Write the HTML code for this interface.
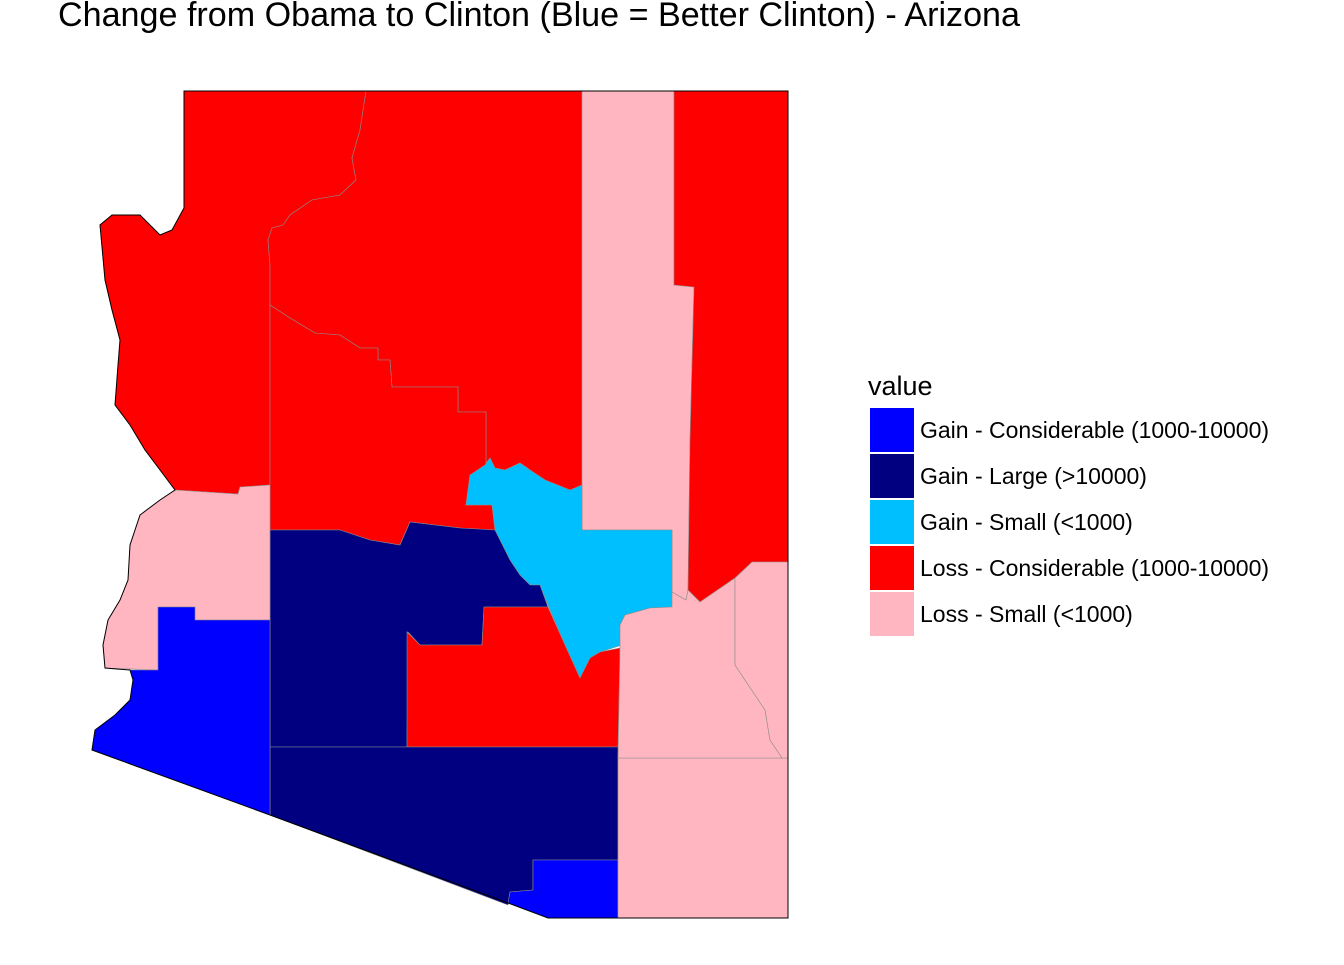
<!DOCTYPE html>
<html><head><meta charset="utf-8"><style>
body{margin:0;background:#fff;}
svg text{font-family:"Liberation Sans",Arial,sans-serif;}
</style></head><body>
<svg id="chart" width="1344" height="960" viewBox="0 0 1344 960" xmlns="http://www.w3.org/2000/svg">
<rect width="1344" height="960" fill="#fff"/>
<text x="58" y="26" font-size="34" fill="#000" textLength="962" lengthAdjust="spacingAndGlyphs">Change from Obama to Clinton (Blue = Better Clinton) - Arizona</text>
<g id="map"></g>
<polygon points="184,91 788,91 788,918 548,918 508,903 270,815 92,750 95,730 115,715 130,700 133,680 130,670 105,668 103,645 108,620 120,600 128,580 130,545 140,515 160,500 175,490 160,470 145,450 130,425 115,405 118,365 120,340 112,310 105,280 100,225 112,215 140,215 150,225 160,235 172,230 184,208" fill="none" stroke="#000" stroke-width="1"/>
<g id="legend">
<text x="868" y="395" font-size="27" fill="#000">value</text>
</g>
</svg>
<script>
const categories = ["Gain - Considerable (1000-10000)","Gain - Large (>10000)","Gain - Small (<1000)","Loss - Considerable (1000-10000)","Loss - Small (<1000)"];
const categoryColors = ["#0000ff","#000080","#00bfff","#ff0000","#ffb6c1"];
const counties = ["Mohave","Coconino","Navajo","Apache","Yavapai","Gila","Maricopa","Pinal","Pima","Santa Cruz","Cochise","Graham","Greenlee","La Paz","Yuma"];
const countyValues = [3,3,4,3,3,2,1,3,1,0,4,4,4,4,0];
const shapes = {
"Mohave":"184,91 366,91 360,130 352,158 356,180 340,195 312,200 290,215 283,225 272,228 268,240 270,265 270,485 240,487 238,494 175,490 160,470 145,450 130,425 115,405 118,365 120,340 112,310 105,280 100,225 112,215 140,215 150,225 160,235 172,230 184,208",
"Coconino":"366,91 582,91 582,490 570,490 545,480 530,470 520,463 505,470 495,468 490,458 485,465 486,465 486,412 458,412 458,387 392,387 390,360 378,360 378,348 360,348 340,335 315,333 290,318 270,305 270,265 268,240 272,228 283,225 290,215 312,200 340,195 356,180 352,158 360,130",
"Navajo":"582,91 674,91 674,285 694,287 690,440 688,590 686,600 672,592 672,530 582,530",
"Apache":"674,91 788,91 788,562 752,562 735,578 700,602 688,590 690,440 694,287 674,285",
"Yavapai":"270,305 290,318 315,333 340,335 360,348 378,348 378,360 390,360 392,387 458,387 458,412 486,412 486,465 470,475 466,505 492,505 495,530 460,528 410,522 400,545 370,540 340,530 270,530",
"Gila":"466,505 470,475 485,465 490,458 495,468 505,470 520,463 530,470 545,480 570,490 582,485 582,530 672,530 672,607 650,608 625,615 620,625 622,645 600,652 590,658 580,678 565,645 550,610 540,585 530,585 520,575 510,560 500,540 495,530 492,505",
"Maricopa":"270,530 340,530 370,540 400,545 410,522 460,528 495,530 500,540 510,560 520,575 530,585 540,585 548,607 484,607 482,645 420,645 408,632 407,747 270,747",
"Pinal":"407,632 420,645 482,645 484,607 548,607 565,645 580,678 590,658 600,652 620,648 618,747 407,747",
"Pima":"270,747 618,747 618,860 533,860 533,890 510,892 508,905 270,815",
"Santa Cruz":"533,860 618,860 618,918 548,918 508,903 510,892 533,890",
"Cochise":"618,758 788,758 788,918 618,918",
"Graham":"620,625 625,615 650,608 672,607 672,592 686,600 688,590 700,602 735,578 735,665 765,710 770,740 782,758 618,758 620,648",
"Greenlee":"735,578 752,562 788,562 788,758 782,758 770,740 765,710 735,665",
"La Paz":"175,490 238,494 240,487 270,485 270,620 195,620 195,607 158,607 158,670 105,668 103,645 108,620 120,600 128,580 130,545 140,515 160,500",
"Yuma":"158,607 195,607 195,620 270,620 270,815 92,750 95,730 115,715 130,700 133,680 130,670 158,670"
};
const NS="http://www.w3.org/2000/svg";
const map=document.getElementById('map');
counties.forEach((c,i)=>{
  const p=document.createElementNS(NS,'polygon');
  p.setAttribute('points',shapes[c]);
  p.setAttribute('fill',categoryColors[countyValues[i]]);
  p.setAttribute('stroke','#8c8c8c');
  p.setAttribute('stroke-width','0.6');
  
  
  map.appendChild(p);
});
const lg=document.getElementById('legend');
categories.forEach((c,i)=>{
  const y=408+i*46;
  const r=document.createElementNS(NS,'rect');
  r.setAttribute('x',870);r.setAttribute('y',y);r.setAttribute('width',44);r.setAttribute('height',44);
  r.setAttribute('fill',categoryColors[i]);
  
  
  lg.appendChild(r);
  const t=document.createElementNS(NS,'text');
  t.setAttribute('x',920);t.setAttribute('y',y+30);t.setAttribute('font-size','23');
  t.textContent=c;
  
  
  lg.appendChild(t);
});
</script>
</body></html>
